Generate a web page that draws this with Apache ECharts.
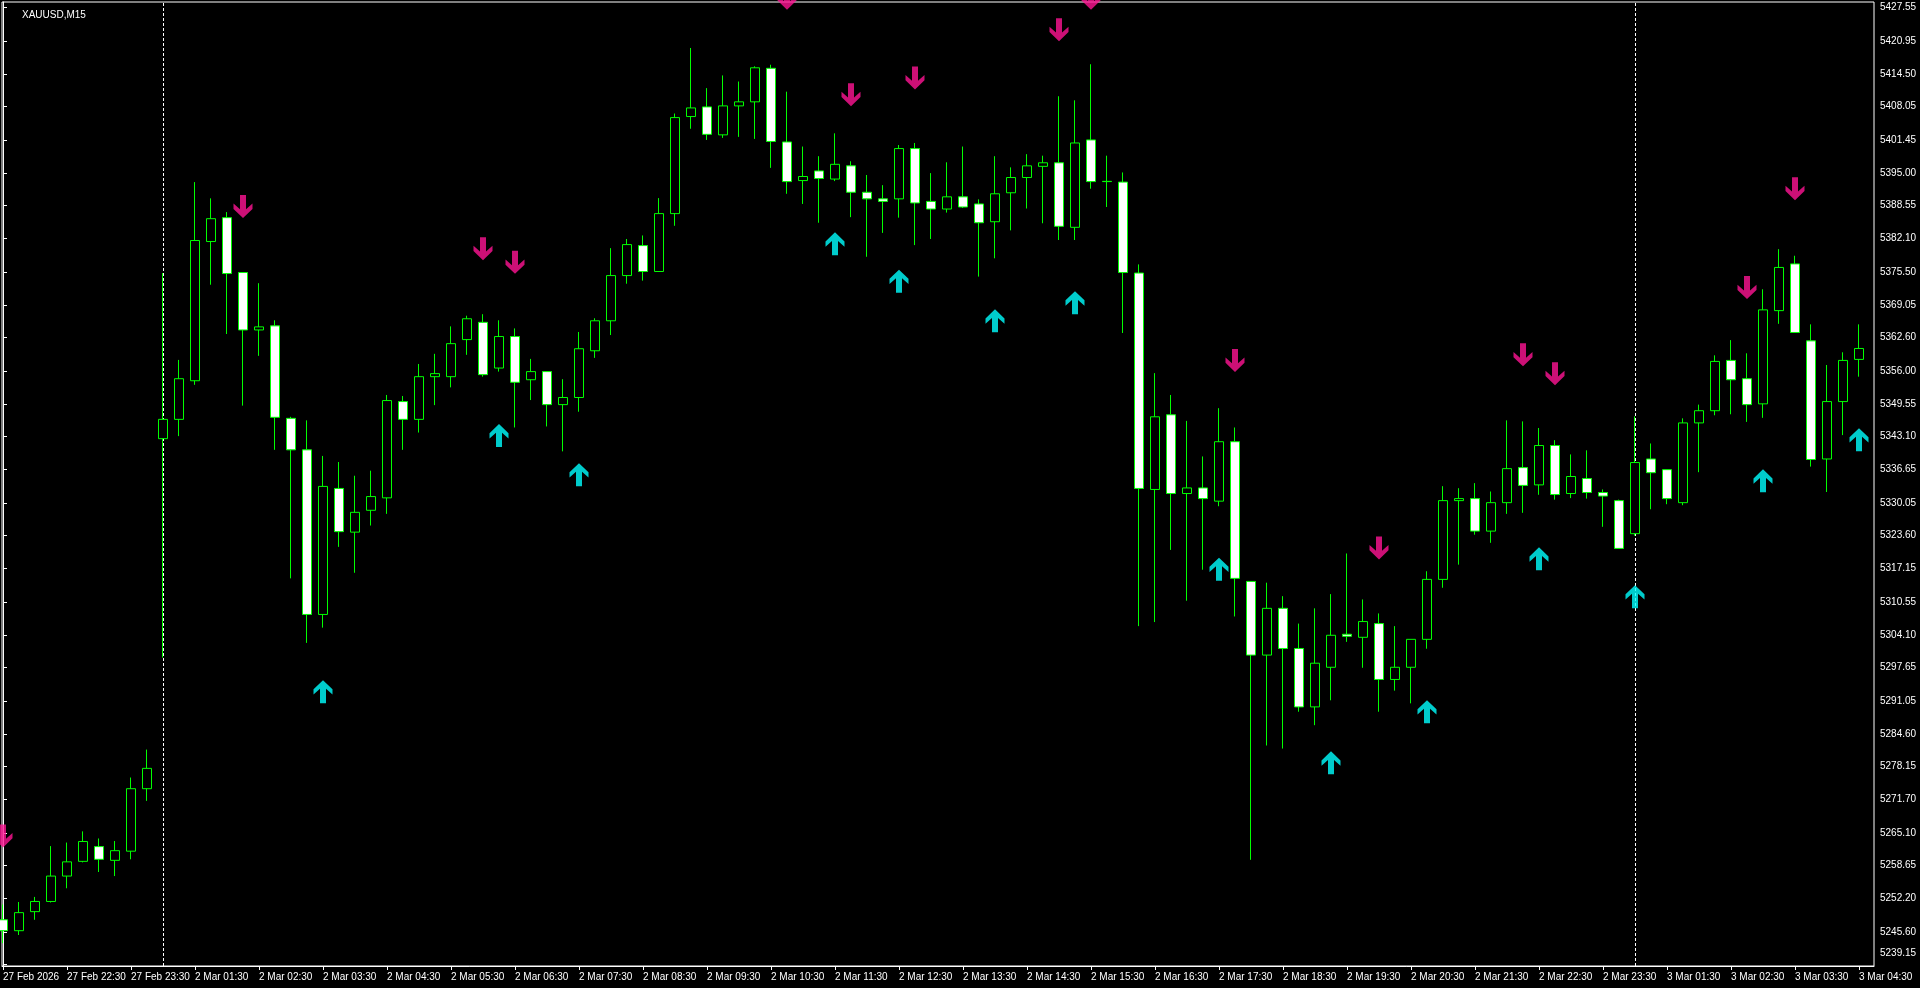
<!DOCTYPE html>
<html>
<head>
<meta charset="utf-8">
<title>XAUUSD,M15</title>
<script src="https://cdn.jsdelivr.net/npm/echarts@6/dist/echarts.min.js"></script>
<style>
html,body{margin:0;padding:0;background:#000;}
#chart{width:1920px;height:988px;}
</style>
</head>
<body>
<div id="chart"></div>
<script>
// ---- Data (XAUUSD M15, 27 Feb 2026 21:30 -> 3 Mar 2026 04:30) ----
const opens = [
5248.0,5245.85,5249.6,5251.6,5256.6,5259.5,5262.4,5259.7,5261.5,5273.8,
5342.7,5346.5,5354.1,5381.5,5386.2,5375.4,5364.1,5364.9,5346.7,5340.5,
5308.1,5332.9,5324.3,5328.6,5331.05,5350.0,5346.5,5354.9,5354.9,5362.2,
5365.6,5356.6,5362.8,5354.3,5355.9,5349.4,5350.8,5360.0,5365.9,5374.8,
5380.7,5375.6,5387.0,5406.1,5408.0,5402.5,5408.2,5409.0,5415.6,5401.1,
5393.5,5395.4,5393.8,5396.4,5391.2,5389.9,5389.9,5399.8,5389.4,5387.9,
5390.3,5388.9,5385.4,5391.1,5394.1,5396.3,5397.0,5384.3,5401.5,5393.35,
5393.2,5375.3,5332.7,5347.4,5331.9,5333.0,5330.4,5342.1,5314.6,5300.1,
5309.3,5301.4,5289.9,5297.7,5304.2,5303.6,5306.3,5295.3,5297.7,5303.2,
5315.0,5330.5,5330.9,5324.5,5330.1,5337.0,5333.6,5341.35,5331.9,5334.85,
5332.1,5330.5,5324.0,5338.7,5336.6,5330.1,5345.8,5348.2,5358.1,5354.5,
5349.55,5367.9,5377.1,5361.95,5338.7,5350.0,5358.3
];
const highs = [
5251.0,5251.5,5252.5,5262.5,5263.2,5265.4,5264.0,5263.5,5276.0,5281.5,
5375.3,5358.2,5393.2,5390.0,5387.3,5375.4,5373.3,5366.0,5347.0,5346.3,
5339.3,5338.1,5335.4,5336.4,5351.3,5351.1,5357.4,5359.4,5364.8,5366.9,
5367.2,5366.0,5364.4,5358.4,5355.9,5354.4,5363.7,5366.4,5380.2,5382.0,
5382.7,5390.05,5406.7,5419.6,5411.7,5414.2,5413.0,5416.0,5416.3,5411.0,
5400.2,5398.3,5402.8,5397.3,5394.6,5392.6,5400.5,5400.9,5394.97,5397.1,
5400.2,5389.8,5398.3,5396.1,5398.7,5398.4,5410.1,5409.3,5416.4,5398.4,
5395.1,5377.0,5355.6,5351.3,5346.2,5339.2,5348.7,5344.9,5314.6,5314.35,
5311.7,5306.3,5309.3,5312.1,5320.1,5311.05,5308.3,5305.8,5303.2,5316.6,
5333.35,5332.95,5333.95,5332.3,5346.3,5346.1,5344.8,5342.4,5339.6,5340.4,
5332.7,5330.7,5347.1,5341.75,5336.6,5346.7,5349.4,5359.1,5362.1,5359.5,
5372.1,5380.0,5378.7,5365.2,5357.2,5359.7,5365.2
];
const lows = [
5243.4,5245.0,5248.0,5251.4,5254.2,5259.3,5257.4,5256.6,5259.9,5271.4,
5299.6,5343.2,5353.3,5373.0,5363.3,5349.2,5359.0,5340.5,5315.2,5302.5,
5305.5,5321.4,5316.3,5325.6,5327.9,5340.5,5343.9,5349.3,5352.8,5359.2,
5354.9,5355.9,5344.9,5350.3,5345.1,5340.2,5348.0,5358.6,5363.1,5373.2,
5373.8,5375.6,5384.6,5403.7,5401.5,5401.9,5402.1,5401.7,5396.0,5390.9,
5388.9,5385.2,5393.4,5386.3,5378.5,5383.2,5386.2,5380.8,5382.0,5387.2,
5388.1,5374.6,5378.2,5383.7,5388.0,5385.1,5381.8,5381.8,5391.9,5388.3,
5363.5,5305.8,5306.6,5320.8,5310.8,5316.9,5329.4,5307.7,5259.8,5282.3,
5281.7,5288.95,5286.3,5291.2,5302.7,5297.6,5288.95,5293.1,5290.6,5301.35,
5313.35,5317.9,5323.8,5322.2,5327.9,5328.1,5331.65,5330.7,5331.0,5330.9,
5325.35,5321.0,5323.6,5328.8,5329.8,5329.6,5336.1,5347.3,5347.5,5346.0,
5346.8,5365.3,5363.6,5337.2,5332.2,5343.4,5354.9
];
const closes = [
5245.85,5249.4,5251.6,5256.6,5259.4,5263.4,5259.9,5261.6,5273.8,5277.8,
5346.5,5354.5,5381.7,5386.0,5375.2,5364.1,5364.7,5346.9,5340.5,5308.1,
5333.3,5324.4,5328.2,5331.3,5350.2,5346.5,5354.9,5355.5,5361.4,5366.3,
5355.3,5362.8,5353.8,5355.9,5349.4,5350.8,5360.4,5365.9,5374.8,5380.9,
5375.6,5387.0,5405.9,5407.8,5402.6,5408.2,5409.0,5415.7,5401.2,5393.3,
5394.3,5393.9,5396.7,5391.2,5389.9,5389.4,5399.8,5389.1,5387.9,5390.3,
5388.3,5385.2,5390.9,5394.1,5396.4,5397.0,5384.5,5400.9,5393.3,5393.3,
5375.4,5332.9,5347.0,5331.9,5333.0,5330.9,5342.1,5315.2,5300.1,5309.3,
5301.4,5289.9,5298.5,5304.0,5303.8,5306.7,5295.3,5297.7,5303.2,5315.0,
5330.5,5330.9,5324.5,5330.1,5336.8,5333.5,5341.35,5331.7,5335.25,5332.1,
5331.4,5321.1,5338.0,5336.0,5330.9,5345.8,5348.2,5357.9,5354.3,5349.4,
5368.05,5376.4,5363.6,5338.6,5350.0,5358.1,5360.45
];

// indicator arrows: [bar index, price]
const buyArrows = [
[20,5292.9],[31,5343.3],[36,5335.6],[52,5381.05],[56,5373.7],[62,5365.9],[67,5369.45],
[76,5317.0],[83,5278.9],[89,5288.95],[96,5319.05],[102,5311.6],[110,5334.4],[116,5342.5]
];
const sellArrows = [
[0,5264.5],[15,5388.4],[30,5380.1],[32,5377.4],[49,5429.4],[53,5410.4],[57,5413.7],
[66,5423.2],[68,5429.4],[77,5358.1],[86,5321.2],[95,5359.2],[97,5355.5],[109,5372.45],[112,5391.9]
];

// axis tick labels
const priceTicks = [5427.55,5420.95,5414.50,5408.05,5401.45,5395.00,5388.55,5382.10,5375.50,5369.05,
5362.60,5356.00,5349.55,5343.10,5336.65,5330.05,5323.60,5317.15,5310.55,5304.10,
5297.65,5291.05,5284.60,5278.15,5271.70,5265.10,5258.65,5252.20,5245.60,5239.15];
const timeTickBars = [0,4,8,12,16,20,24,28,32,36,40,44,48,52,56,60,64,68,72,76,80,84,88,92,96,100,104,108,112,116];
const timeTickLabels = ['27 Feb 2026','27 Feb 22:30','27 Feb 23:30','2 Mar 01:30','2 Mar 02:30','2 Mar 03:30',
'2 Mar 04:30','2 Mar 05:30','2 Mar 06:30','2 Mar 07:30','2 Mar 08:30','2 Mar 09:30','2 Mar 10:30',
'2 Mar 11:30','2 Mar 12:30','2 Mar 13:30','2 Mar 14:30','2 Mar 15:30','2 Mar 16:30','2 Mar 17:30',
'2 Mar 18:30','2 Mar 19:30','2 Mar 20:30','2 Mar 21:30','2 Mar 22:30','2 Mar 23:30','3 Mar 01:30',
'3 Mar 02:30','3 Mar 03:30','3 Mar 04:30'];
const daySeparatorBars = [10,102];
const symbolName = 'XAUUSD,M15';

// ---- build ----
const candles = opens.map((o,i)=>[i,o,closes[i],lows[i],highs[i]]);
const upPath = 'path://M9.5,0 L19,9.5 L19,15 L12.5,9 L12.5,24 L6.5,24 L6.5,9 L0,15 L0,9.5 Z';
const downPath = 'path://M9.5,24 L19,14.5 L19,9 L12.5,15 L12.5,0 L6.5,0 L6.5,15 L0,9 L0,14.5 Z';
const FONT = 'Liberation Sans';

const chart = echarts.init(document.getElementById('chart'), null, {renderer:'canvas'});
chart.setOption({
  backgroundColor:'#000',
  animation:false,
  title:{
    text:symbolName, left:17, top:5,
    textStyle:{color:'#ffffff', fontSize:10, fontWeight:'normal', fontFamily:FONT}
  },
  grid:{left:2, top:2, right:46, bottom:22, show:true, borderColor:'#ffffff', borderWidth:1, backgroundColor:'transparent'},
  xAxis:{
    type:'value', min:-0.0625, max:116.9375,
    splitLine:{show:false},
    axisLine:{show:true, onZero:false, lineStyle:{color:'#ffffff', width:1}},
    axisTick:{show:true, length:4, customValues:timeTickBars, lineStyle:{color:'#ffffff'}},
    axisLabel:{
      show:true, customValues:timeTickBars, color:'#ffffff', fontSize:10, fontFamily:FONT,
      align:'left', margin:6,
      formatter:(v)=>{ const k=timeTickBars.indexOf(Math.round(v)); return k>=0?timeTickLabels[k]:''; }
    }
  },
  yAxis:{
    type:'value', position:'right', min:5238.9, max:5428.65, scale:true,
    splitLine:{show:false},
    axisLine:{show:true, lineStyle:{color:'#ffffff', width:1}},
    axisTick:{show:true, length:4, customValues:priceTicks, lineStyle:{color:'#ffffff'}},
    axisLabel:{
      show:true, customValues:priceTicks, color:'#ffffff', fontSize:10, fontFamily:FONT, margin:6,
      formatter:(v)=> v===priceTicks[priceTicks.length-1] ? '{b|'+v.toFixed(2)+'}' : v.toFixed(2),
      rich:{b:{color:'#ffffff', fontSize:10, fontFamily:FONT, padding:[0,0,22,0]}}
    }
  },
  series:[
    {
      type:'scatter', data:[], z:1, silent:true,
      markLine:{
        z:1, silent:true, symbol:['none','none'], animation:false,
        label:{show:false},
        lineStyle:{color:'#ffffff', type:[3,2], width:1},
        data:daySeparatorBars.map(b=>({xAxis:b}))
      }
    },
    {
      type:'candlestick', data:candles, encode:{x:0, y:[1,2,3,4]},
      barWidth:10, z:10,
      itemStyle:{color:'#000000', color0:'#ffffff', borderColor:'#00ff00', borderColor0:'#00ff00', borderColorDoji:'#00ff00', borderWidth:1}
    },
    {
      type:'scatter', data:buyArrows, symbol:upPath, symbolSize:[19,23], clip:false,
      itemStyle:{color:'#00ffff'}, z:12
    },
    {
      type:'scatter', data:sellArrows, symbol:downPath, symbolSize:[19,23], clip:false,
      itemStyle:{color:'#ff1493'}, z:12
    }
  ]
});
</script>
</body>
</html>
